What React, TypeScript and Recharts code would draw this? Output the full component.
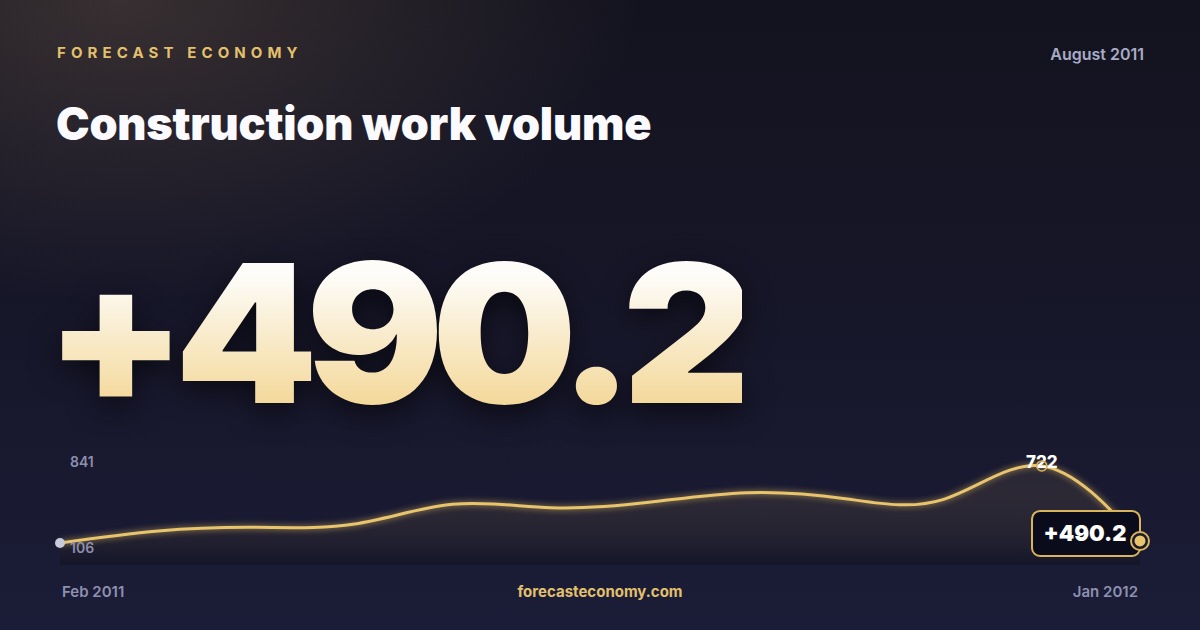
import React from "react";
import { ComposedChart, Area, Line, XAxis, YAxis } from "recharts";

const months = ["Feb 2011", "Mar 2011", "Apr 2011", "May 2011", "Jun 2011", "Jul 2011", "Aug 2011", "Sep 2011", "Oct 2011", "Nov 2011", "Dec 2011", "Jan 2012"];
const volume = [106, 202, 231, 258, 415, 388, 431, 508, 460, 455, 722, 122];
const scaleLabels = ["841", "106"];
const headline = "+490.2";
const peakIndex = 10;

const data = months.map((m, i) => ({ month: m, value: volume[i] }));

const GOLD = "#e8c46c";

function MarkDot(props: any) {
  const { cx, cy, index } = props;
  if (cx == null || cy == null) return null;
  if (index === 0) {
    return <circle key="d0" cx={cx} cy={cy} r={5} fill="#c9cbdd" />;
  }
  if (index === peakIndex) {
    return (
      <g key="dpeak">
        <text x={cx} y={cy + 2} textAnchor="middle" fill="#ffffff" fontSize={17} fontWeight={800} fontFamily="Inter">
          {volume[index]}
        </text>
        <circle cx={cx} cy={cy} r={5} fill="none" stroke="#d9b45c" strokeWidth={1.5} />
      </g>
    );
  }
  if (index === volume.length - 1) {
    return (
      <g key="dlast">
        <rect x={cx - 108} y={cy - 30} width={108} height={45} rx={8} fill="#0b0c1b" stroke="#d9b45c" strokeWidth={2} />
        <text x={cx - 55} y={cy} textAnchor="middle" fill="#ffffff" fontSize={22} fontWeight={900} fontFamily="Inter">
          {headline}
        </text>
        <circle cx={cx} cy={cy} r={9} fill="#1a1a2c" stroke="#d9b45c" strokeWidth={2} />
        <circle cx={cx} cy={cy} r={5.5} fill={GOLD} />
      </g>
    );
  }
  return <g key={"d" + index} />;
}

export default function App() {
  return (
    <div
      style={{
        position: "absolute",
        left: 0,
        top: 0,
        width: 1200,
        height: 630,
        overflow: "hidden",
        fontFamily: "Inter, sans-serif",
        background:
          "radial-gradient(ellipse 520px 300px at 120px 0px, rgba(150,120,95,0.28), rgba(150,120,95,0) 100%), linear-gradient(180deg, #13131f 0%, #161628 45%, #1b1c37 100%)",
      }}
    >
      <style>{`.recharts-line-curve { filter: drop-shadow(0 0 3px rgba(240,200,100,0.75)); }`}</style>
      <div style={{ position: "absolute", left: 57, top: 45, fontSize: 15, lineHeight: "15px", fontWeight: 700, letterSpacing: "0.34em", color: "#e3c06c" }}>
        FORECAST ECONOMY
      </div>
      <div style={{ position: "absolute", right: 56, top: 46, fontSize: 16, lineHeight: "16px", fontWeight: 600, color: "#a9abc6" }}>
        August 2011
      </div>
      <div style={{ position: "absolute", left: 56, top: 101, fontSize: 45, lineHeight: "45px", fontWeight: 900, color: "#fafaff", letterSpacing: "-0.005em" }}>
        Construction work volume
      </div>
      <div
        style={{
          position: "absolute",
          left: 45,
          top: 237,
          fontSize: 193,
          lineHeight: "193px",
          fontWeight: 900,
          letterSpacing: "-0.06em",
          transform: "scaleX(1.06)",
          transformOrigin: "left center",
          background: "linear-gradient(180deg, #fdfcf8 20%, #f4d99c 85%)",
          WebkitBackgroundClip: "text",
          backgroundClip: "text",
          color: "transparent",
          filter: "drop-shadow(0 10px 14px rgba(0,0,0,0.55))",
        }}
      >
        {headline}
      </div>

      <div style={{ position: "absolute", left: 0, top: 400 }}>
        <ComposedChart width={1200} height={200} data={data} margin={{ top: 40, right: 60, bottom: 35, left: 60 }}>
          <defs>
            <linearGradient id="areaFill" x1="0" y1="0" x2="0" y2="1">
              <stop offset="0%" stopColor="#e8c06a" stopOpacity={0.13} />
              <stop offset="100%" stopColor="#06060e" stopOpacity={0.45} />
            </linearGradient>
          </defs>
          <XAxis dataKey="month" hide padding={{ left: 0, right: 0 }} />
          <YAxis hide domain={[-70, 929]} />
          <Area type="natural" dataKey="value" baseValue="dataMin" stroke="none" fill="url(#areaFill)" isAnimationActive={false} dot={false} activeDot={false} />
          <Line type="natural" dataKey="value" stroke={GOLD} strokeWidth={3} dot={MarkDot} activeDot={false} isAnimationActive={false} />
        </ComposedChart>
      </div>

      <div style={{ position: "absolute", left: 70, top: 455, fontSize: 14, lineHeight: "14px", fontWeight: 600, color: "#8d8fae" }}>
        {scaleLabels[0]}
      </div>
      <div style={{ position: "absolute", left: 70, top: 541, fontSize: 14, lineHeight: "14px", fontWeight: 600, color: "#8d8fae" }}>
        {scaleLabels[1]}
      </div>

      <div style={{ position: "absolute", left: 62, top: 584, fontSize: 15, lineHeight: "15px", fontWeight: 600, color: "#8e90b0" }}>
        {months[0]}
      </div>
      <div style={{ position: "absolute", left: 0, width: 1200, textAlign: "center", top: 584, fontSize: 15, lineHeight: "15px", fontWeight: 700, color: "#e3c06c" }}>
        forecasteconomy.com
      </div>
      <div style={{ position: "absolute", right: 62, top: 584, fontSize: 15, lineHeight: "15px", fontWeight: 600, color: "#8e90b0" }}>
        {months[months.length - 1]}
      </div>
    </div>
  );
}
